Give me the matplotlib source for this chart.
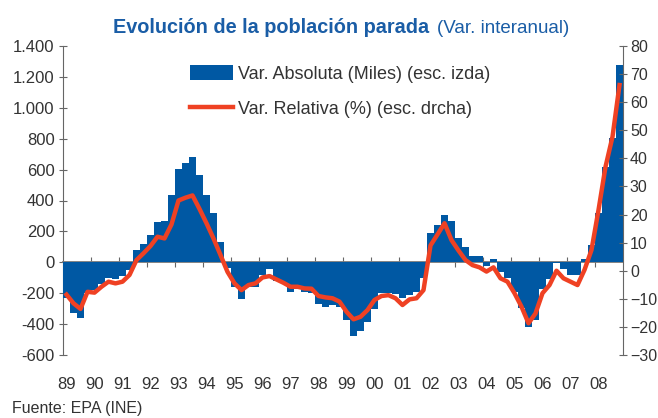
# Evolución de la población parada - quarterly year-on-year change, 1989-2008

import matplotlib
matplotlib.use('Agg')
import matplotlib.pyplot as plt
from matplotlib.ticker import FuncFormatter

plt.rcParams['font.family'] = ['Liberation Sans', 'DejaVu Sans']

# Data, one value per quarter 1989Q1 - 2008Q4

years = list(range(1989, 2009))
year_labels = ['89', '90', '91', '92', '93', '94', '95', '96', '97', '98',
               '99', '00', '01', '02', '03', '04', '05', '06', '07', '08']

# Var. Absoluta (miles)
abs_change = [-230, -330, -358, -200, -180, -138, -102, -106, -89, -50,
              80, 118, 177, 263, 270, 435, 604, 642, 684, 565,
              435, 321, 131, -40, -158, -235, -163, -158, -82, -46,
              -120, -136, -190, -170, -190, -198, -268, -287, -276, -289,
              -376, -474, -442, -384, -300, -200, -200, -205, -230, -211,
              -190, -103, 190, 241, 305, 268, 156, 99, 38, 38,
              -24, 24, -60, -104, -190, -297, -422, -375, -172, -108,
              -3, -45, -82, -82, 20, 112, 321, 619, 807, 1280]

# Var. Relativa (%)
rel_change = [-8.5, -11.6, -13.6, -7.5, -7.8, -5.7, -3.9, -4.5, -3.9, -1.5,
              3.8, 6.2, 8.8, 12.1, 11.5, 16.5, 25.0, 26.0, 26.8, 22.0,
              16.9, 11.5, 5.6, -0.4, -4.5, -6.9, -5.1, -4.5, -2.4, -1.9,
              -3.1, -4.3, -5.7, -5.7, -6.3, -6.4, -9.0, -9.5, -9.8, -11.0,
              -14.6, -17.3, -16.4, -14.0, -10.4, -9.0, -8.7, -9.8, -12.2, -10.2,
              -9.8, -6.9, 9.0, 12.9, 16.9, 10.9, 7.2, 3.8, 2.0, 1.2,
              -0.3, 1.2, -2.7, -3.9, -8.0, -12.8, -18.7, -15.2, -8.0, -5.1,
              0.0, -2.7, -3.9, -5.1, 0.3, 7.4, 21.6, 37.0, 47.7, 66.1]

# quarter centres in decimal years
quarters = [1989 + 0.25 * i + 0.125 for i in range(len(abs_change))]

blue = '#0058a3'
red = '#ef4123'
grey = '#666666'
text_col = '#333333'
title_col = '#1a5da6'

fig = plt.figure(figsize=(6.58, 4.18), dpi=100)
ax = fig.add_axes([63 / 658, 1 - 355 / 418, 560 / 658, 309 / 418])
ax2 = ax.twinx()

# Bars on the left axis
bars = ax.bar(quarters, abs_change, width=0.215, color=blue, zorder=3,
              label='Var. Absoluta (Miles) (esc. izda)')
ax.set_xlim(1989, 2009)
ax.set_ylim(-600, 1400)
ax.set_yticks(range(-600, 1401, 200))
ax.yaxis.set_major_formatter(FuncFormatter(lambda v, p: f'{int(v):,}'.replace(',', '.')))

# Line on the right axis
line, = ax2.plot(quarters, rel_change, color=red, lw=3.2, solid_joinstyle='round',
                 label='Var. Relativa (%) (esc. drcha)')
ax2.set_ylim(-30, 80)
ax2.set_yticks(range(-30, 81, 10))

# Spines and ticks
for s in ['top', 'right']:
    ax.spines[s].set_visible(False)
for s in ['top', 'left', 'bottom']:
    ax2.spines[s].set_visible(False)
ax.spines['left'].set_color(grey)
ax2.spines['right'].set_color(grey)
ax.spines['bottom'].set_position(('data', 0))
ax.spines['bottom'].set_color('#7a7a7a')
ax.spines['bottom'].set_linewidth(1.3)

ax.set_xticks(years[1:])
ax.tick_params(axis='x', direction='inout', length=6.5, color=grey, labelbottom=False)
ax.tick_params(axis='y', direction='inout', length=6, color=grey, labelsize=12,
               labelcolor=text_col, pad=3)
ax2.tick_params(axis='y', direction='inout', length=6, color=grey, labelsize=11.5,
                labelcolor=text_col, pad=2)

# Year labels below the plot
sec = ax.secondary_xaxis('bottom')
sec.set_xticks([y + 0.125 for y in years], year_labels)
sec.tick_params(length=0, pad=16, labelsize=12, labelcolor=text_col)
sec.spines['bottom'].set_visible(False)

# Legend
ax2.legend(handles=[bars, line], loc='upper left', bbox_to_anchor=(0.227, 0.94),
           frameon=False, fontsize=13, handlelength=2.4, handleheight=0.95,
           handletextpad=0.25, labelspacing=0.95, borderpad=0, borderaxespad=0,
           labelcolor=text_col)

# Title (bold part + regular part right after it) and source
t1 = fig.text(113 / 658, 1 - 33 / 418, 'Evolución de la población parada', fontsize=14.3,
              fontweight='bold', color=title_col, ha='left', va='baseline')
ax.annotate('(Var. interanual)', xy=(1, 0), xycoords=t1, xytext=(6, 0),
            textcoords='offset points', fontsize=13.5, color=title_col,
            ha='left', va='bottom', annotation_clip=False)
fig.text(12 / 658, 1 - 408 / 418, 'Fuente: EPA (INE)', fontsize=11.5,
         color=text_col, ha='left', va='center')

plt.savefig('out.png', dpi=100)
